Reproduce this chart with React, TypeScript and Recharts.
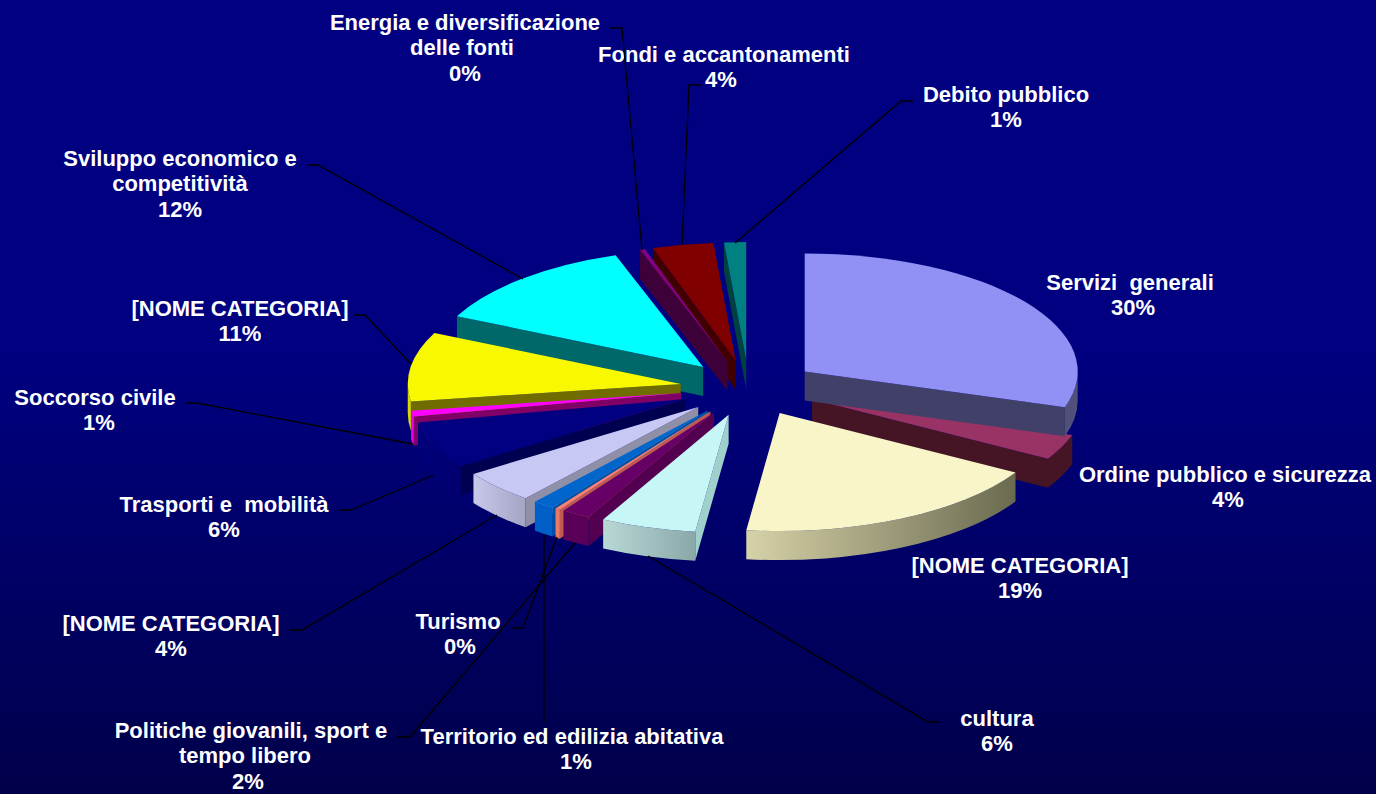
import { Pie, PieChart } from "recharts";

const WIDTH = 1376;
const HEIGHT = 794;
const FONT = "'Liberation Sans', Arial, sans-serif";

// Everything below is in paint order, back to front: it runs counter-clockwise
// round the pie, starting at Ordine pubblico, so nearer slices cover farther ones.
const categories = [
  "Ordine pubblico e sicurezza",
  "Servizi  generali",
  "Debito pubblico",
  "Fondi e accantonamenti",
  "Energia e diversificazione delle fonti",
  "Sviluppo economico e competitività",
  "[NOME CATEGORIA] 11",
  "Soccorso civile",
  "Trasporti e  mobilità",
  "[NOME CATEGORIA] 4",
  "Territorio ed edilizia abitativa",
  "Turismo",
  "Politiche giovanili, sport e tempo libero",
  "cultura",
  "[NOME CATEGORIA] 19",
];
const values = [3.5, 29.9, 1.3, 3.6, 0.3, 12.7, 9.5, 0.8, 6.4, 4.5, 1.3, 0.3, 1.7, 5.65, 18.55];
const percentLabels = ["4%", "30%", "1%", "4%", "0%", "12%", "11%", "1%", "6%", "4%", "1%", "0%", "2%", "6%", "19%"];
const labelRows = [
  ["Ordine pubblico e sicurezza"],
  ["Servizi  generali"],
  ["Debito pubblico"],
  ["Fondi e accantonamenti"],
  ["Energia e diversificazione", "delle fonti"],
  ["Sviluppo economico e", "competitività"],
  ["[NOME CATEGORIA]"],
  ["Soccorso civile"],
  ["Trasporti e  mobilità"],
  ["[NOME CATEGORIA]"],
  ["Territorio ed edilizia abitativa"],
  ["Turismo"],
  ["Politiche giovanili, sport e", "tempo libero"],
  ["cultura"],
  ["[NOME CATEGORIA]"],
];

const topColors = ["#993366", "#9090f5", "#008080", "#800000", "#800080", "#00ffff", "#f8f800", "#ff00ff", "#000080", "#c8c8f5", "#0066cc", "#ff8070", "#660066", "#c6f6f6", "#f8f5c8"];
const cutColors = ["#451525", "#404068", "#004040", "#400000", "#3d0038", "#006868", "#706c00", "#800066", "#000050", "#8f8fa8", "#0050a8", "#c05a50", "#52004f", "#a0d0cc", "#8a8a6a"];
const wallLeft = ["#451525", "#50507a", "#006060", "#600000", "#660066", "#00dada", "#d8d800", "#f000f0", "#00007a", "#c8c8ea", "#0060c8", "#e87a66", "#5a0058", "#b8d8d6", "#d6d2a8"];
const wallRight = ["#451525", "#50507a", "#006060", "#600000", "#660066", "#00dada", "#d8d800", "#f000f0", "#000070", "#a4a4c4", "#0060c8", "#e87a66", "#5a0058", "#8aa8a8", "#6a6a50"];

// where the text sits, and the black leader from the text to its slice
const labelCenter = [1225, 1130, 1006, 724, 465, 180, 240, 95, 224, 171, 572, 458, 251, 997, 1020];
const labelTop = [474, 282, 94, 54, 22, 158, 308, 397, 504, 623, 736, 621, 730, 718, 565];
// the original centres some rows slightly off the first one
const rowShift = [[0, 3], [0, 3], [0, 0], [0, -3], [0, -3, 0], [0, 0, 0], [0, 0], [0, 4], [0, 0], [0, 0], [0, 4], [0, 2], [0, -6, -3], [0, 0], [0, 0]];
const leaders: ([number, number][] | null)[] = [
  null,
  null,
  [[913, 101], [901, 101], [735, 243]],
  [[701, 85], [689, 85], [682, 245]],
  [[610, 28], [622, 28], [642, 250]],
  [[307, 165], [318, 165], [523, 279]],
  [[354, 315], [365, 315], [411, 364]],
  [[186, 403], [197, 403], [413, 444]],
  [[339, 510], [351, 510], [434, 475]],
  [[290, 630], [302, 630], [497, 515]],
  [[544, 722], [544, 535]],
  [[511, 628], [523, 628], [557, 537]],
  [[398, 737], [410, 737], [575, 543]],
  [[940, 722], [928, 722], [648, 556]],
  null,
];

const tableData = categories.map((name, i) => ({ name, value: values[i], index: i }));

const CX = 749;
const CY = 388;
const RADIUS = 273;
const SQUASH = 118 / 273;
const DEPTH = 29;
const EXPLODE_X = 69;
const EXPLODE_Y = 28;
const LINE_STEP = 25.7;

// Servizi has to start at 12 o'clock, so the pie opens after Ordine + Servizi
const START_ANGLE = 90 - 3.6 * (values[0] + values[1]);

const rad = (d: number) => (d * Math.PI) / 180;

function SliceShape(props: any) {
  const i: number = props.payload?.index ?? props.index;
  // recharts angles run counter-clockwise from 3 o'clock; t runs clockwise from 12
  let t0 = 90 - Math.max(props.startAngle, props.endAngle);
  let t1 = 90 - Math.min(props.startAngle, props.endAngle);
  if (t1 <= 0.001) {
    t0 += 360;
    t1 += 360;
  }
  const mid = (t0 + t1) / 2;
  const rx = props.outerRadius as number;
  const ry = rx * SQUASH;
  const ax = props.cx + EXPLODE_X * Math.sin(rad(mid));
  const ay = props.cy - EXPLODE_Y * Math.cos(rad(mid));
  const px = (t: number) => ax + rx * Math.sin(rad(t));
  const py = (t: number) => ay - ry * Math.cos(rad(t));

  const large = t1 - t0 > 180 ? 1 : 0;
  const top = `M${ax},${ay} L${px(t0)},${py(t0)} A${rx},${ry} 0 ${large} 1 ${px(t1)},${py(t1)} Z`;
  const cut = (t: number) =>
    `M${ax},${ay} L${px(t)},${py(t)} L${px(t)},${py(t) + DEPTH} L${ax},${ay + DEPTH} Z`;

  const wa = Math.max(t0, 90);
  const wb = Math.min(t1, 270);
  const gradId = `wall-${i}`;
  return (
    <g>
      {t0 > 180 && t0 < 360 && <path d={cut(t0)} fill={cutColors[i]} />}
      {t1 > 0 && t1 < 180 && <path d={cut(t1)} fill={cutColors[i]} />}
      {wa < wb && (
        <>
          <defs>
            <linearGradient id={gradId} x1="0" y1="0" x2="1" y2="0">
              <stop offset="0%" stopColor={wallLeft[i]} />
              <stop offset="100%" stopColor={wallRight[i]} />
            </linearGradient>
          </defs>
          <path
            d={`M${px(wa)},${py(wa)} A${rx},${ry} 0 0 1 ${px(wb)},${py(wb)} L${px(wb)},${py(wb) + DEPTH} A${rx},${ry} 0 0 0 ${px(wa)},${py(wa) + DEPTH} Z`}
            fill={`url(#${gradId})`}
          />
        </>
      )}
      <path d={top} fill={topColors[i]} />
    </g>
  );
}

function renderLabel(props: any) {
  const i: number = props.payload?.index ?? props.index;
  const rows = [...labelRows[i], percentLabels[i]];
  const line = leaders[i];
  return (
    <g key={i}>
      {line && <polyline points={line.map((p) => p.join(",")).join(" ")} fill="none" stroke="#000" strokeWidth={1.3} />}
      <text
        textAnchor="middle"
        fill="#fff"
        fontFamily={FONT}
        fontWeight="bold"
        fontSize={22}
        style={{ whiteSpace: "pre" }}
      >
        {rows.map((row, r) => (
          <tspan key={r} x={labelCenter[i] + rowShift[i][r]} y={labelTop[i] + 7.5 + r * LINE_STEP}>
            {row}
          </tspan>
        ))}
      </text>
    </g>
  );
}

export default function App() {
  return (
    <div
      style={{
        position: "absolute",
        left: 0,
        top: 0,
        width: WIDTH,
        height: HEIGHT,
        overflow: "hidden",
        background: "linear-gradient(180deg, #000080 0%, #000080 45%, #00004a 100%)",
      }}
    >
      <PieChart width={WIDTH} height={HEIGHT} margin={{ top: 0, right: 0, bottom: 0, left: 0 }}>
        <Pie
          data={tableData}
          dataKey="value"
          nameKey="name"
          cx={CX}
          cy={CY}
          innerRadius={0}
          outerRadius={RADIUS}
          startAngle={START_ANGLE}
          endAngle={START_ANGLE + 360}
          stroke="none"
          shape={SliceShape}
          label={renderLabel}
          labelLine={false}
          isAnimationActive={false}
        />
      </PieChart>
    </div>
  );
}
